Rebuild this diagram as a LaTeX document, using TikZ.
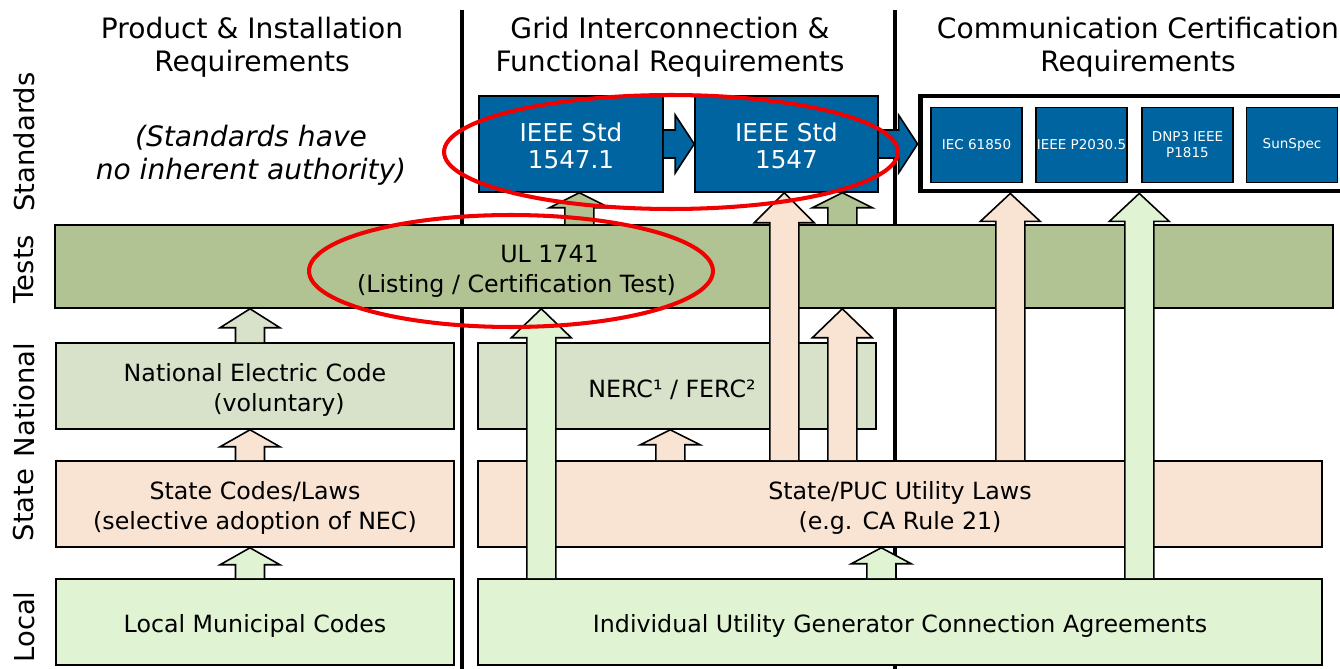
\documentclass[tikz,border=0pt]{standalone}
\usepackage{fontspec}
\setmainfont{DejaVu Sans}
\usetikzlibrary{calc}
\definecolor{stdblue}{HTML}{0064A0}
\definecolor{tstolive}{HTML}{B2C393}
\definecolor{natsage}{HTML}{D8E1C9}
\definecolor{stapeach}{HTML}{F9E3D3}
\definecolor{lclgreen}{HTML}{E0F3D3}
\definecolor{ringred}{HTML}{F00000}
\tikzset{
  bx/.style={draw=black, line width=0.9pt, align=center, inner sep=0pt, font=\fontsize{13.5}{17}\selectfont},
  tst/.style={bx, fill=tstolive},
  nat/.style={bx, fill=natsage},
  sta/.style={bx, fill=stapeach},
  lcl/.style={bx, fill=lclgreen},
  std/.style={bx, fill=stdblue, text=white, font=\fontsize{14}{15.4}\selectfont},
  com/.style={bx, fill=stdblue, text=white, font=\fontsize{7.7}{9.1}\selectfont, minimum width=1.82cm, minimum height=1.5cm},
  combox/.style={draw=black, line width=2.8pt, fill=white, inner sep=0pt},
  hdr/.style={align=center, font=\fontsize{16}{18.8}\selectfont},
  rowlbl/.style={rotate=90, font=\fontsize{15.6}{18}\selectfont},
  divider/.style={line width=2.8pt},
  blk/.style={draw=black, line width=0.9pt, line join=miter},
  ring/.style={draw=ringred, line width=2.3pt},
}
% taller first line, so the text sits a little lower in its box
\newcommand{\lift}[1][14.3pt]{\rule{0pt}{#1}}
% block arrow pointing up: [head length]{fill}{start}{target}
\newcommand{\blockup}[4][0.34cm]{%
  \draw[blk, fill=#2] let \p1=(#3), \p2=(#4) in
    (\x1-0.29cm,\y1) -- (\x1-0.29cm,\y2-#1) -- (\x1-0.6cm,\y2-#1) -- (\x1,\y2)
    -- (\x1+0.6cm,\y2-#1) -- (\x1+0.29cm,\y2-#1) -- (\x1+0.29cm,\y1);
}
% block arrow pointing right between two standards
\newcommand{\blockright}[2]{%
  \draw[blk, fill=stdblue] let \p1=(#1), \p2=(#2) in
    (\x1,\y1+0.28cm) -- (\x2-0.38cm,\y1+0.28cm) -- (\x2-0.38cm,\y1+0.58cm) -- (\x2,\y1)
    -- (\x2-0.38cm,\y1-0.58cm) -- (\x2-0.38cm,\y1-0.28cm) -- (\x1,\y1-0.28cm);
}
\begin{document}
\begin{tikzpicture}[x=0.02cm, y=-0.02cm]
  \useasboundingbox (0,0) rectangle (1340,669);
  \clip (0,0) rectangle (1340,669);
  % column dividers
  \draw[divider] (462,10) -- (462,669);
  \draw[divider] (895,10) -- (895,669);

  % headers and row labels
  \node[hdr] (hprod) at (252,47) {Product \& Installation\\Requirements};
  \node[hdr] (hgrid) at (670,47) {Grid Interconnection \&\\Functional Requirements};
  \node[hdr] (hcomm) at (1138,47) {Communication Certification\\Requirements};
  \node[hdr, font=\fontsize{16}{18.5}\selectfont\itshape] (note) at (251,155) {(Standards have\\no inherent authority)};
  \node[rowlbl] (rstd) at (24,142) {Standards};
  \node[rowlbl] (rtst) at (24,269) {Tests};
  \node[rowlbl] (rnat) at (24,400) {National};
  \node[rowlbl] (rsta) at (24,505) {State};
  \node[rowlbl] (rlcl) at (24,627) {Local};

  % standards
  \node[std, minimum width=3.68cm, minimum height=1.92cm] (s1) at (571,144) {\lift[12.9pt]IEEE Std\\1547.1};
  \node[std, minimum width=3.66cm, minimum height=1.92cm] (s2) at (786.5,144) {\lift[12.9pt]IEEE Std\\1547};
  \node[combox, minimum width=9cm, minimum height=1.9cm] (comm) at (1145,143.5) {};
  \node[com] (c1) at (976.5,145) {IEC 61850};
  \node[com] (c2) at (1081.5,145) {IEEE P2030.5};
  \node[com] (c3) at (1187.5,145) {DNP3 IEEE\\P1815};
  \node[com] (c4) at (1292,145) {SunSpec};
  \blockright{s1.east}{s2.west}
  \blockright{s2.east}{comm.west}

  % tests, national, state, local
  \node[tst, minimum width=25.56cm, minimum height=1.66cm] (tests) at (694,266.5) {};
  \node[bx, draw=none] (ul) at (516.5,267) {\lift\hspace*{1.32cm}UL 1741\\(Listing / Certification Test)};
  \node[nat, minimum width=7.96cm, minimum height=1.72cm] (nec) at (255,386) {\lift National Electric Code\\\hspace*{0.96cm}(voluntary)};
  \node[nat, minimum width=7.96cm, minimum height=1.72cm] (nerc) at (677,386) {\lift NERC¹ / FERC²\hspace*{0.2cm}};
  \node[sta, minimum width=7.96cm, minimum height=1.72cm] (stc) at (255,504) {\lift State Codes/Laws\\(selective adoption of NEC)};
  \node[sta, minimum width=16.88cm, minimum height=1.72cm] (puc) at (900,504) {\lift State/PUC Utility Laws\\(e.g. CA Rule 21)};
  \node[lcl, minimum width=7.96cm, minimum height=1.72cm] (loc) at (255,622) {\lift Local Municipal Codes};
  \node[lcl, minimum width=16.88cm, minimum height=1.72cm] (ind) at (900,622) {\lift Individual Utility Generator Connection Agreements};

  % upward links
  \blockup{lclgreen}{$(loc.north)+(-5,0)$}{stc.south}
  \blockup{stapeach}{$(stc.north)+(-5,0)$}{nec.south}
  \blockup[0.38cm]{natsage}{$(nec.north)+(-5,0)$}{tests.south}
  \blockup[0.3cm]{tstolive}{$(tests.north west)+(525,0)$}{s1.south}
  \blockup[0.3cm]{tstolive}{$(tests.north west)+(788,0)$}{s2.south}
  \blockup[0.3cm]{stapeach}{$(puc.north west)+(193,0)$}{nerc.south}
  \blockup[0.32cm]{lclgreen}{$(ind.north west)+(404,0)$}{puc.south}
  \blockup[0.58cm]{lclgreen}{$(ind.north west)+(64,0)$}{tests.south}
  \blockup[0.6cm]{stapeach}{$(puc.north west)+(307,0)$}{s2.south}
  \blockup[0.58cm]{stapeach}{$(puc.north west)+(365,0)$}{tests.south}
  \blockup[0.56cm]{stapeach}{$(puc.north west)+(533,0)$}{comm.south}
  \blockup[0.56cm]{lclgreen}{$(ind.north west)+(662,0)$}{comm.south}

  % red highlights
  \draw[ring] (671,152) ellipse [x radius=4.54cm, y radius=1.14cm];
  \draw[ring] (511,271) ellipse [x radius=4.04cm, y radius=1.12cm];
\end{tikzpicture}
\end{document}
